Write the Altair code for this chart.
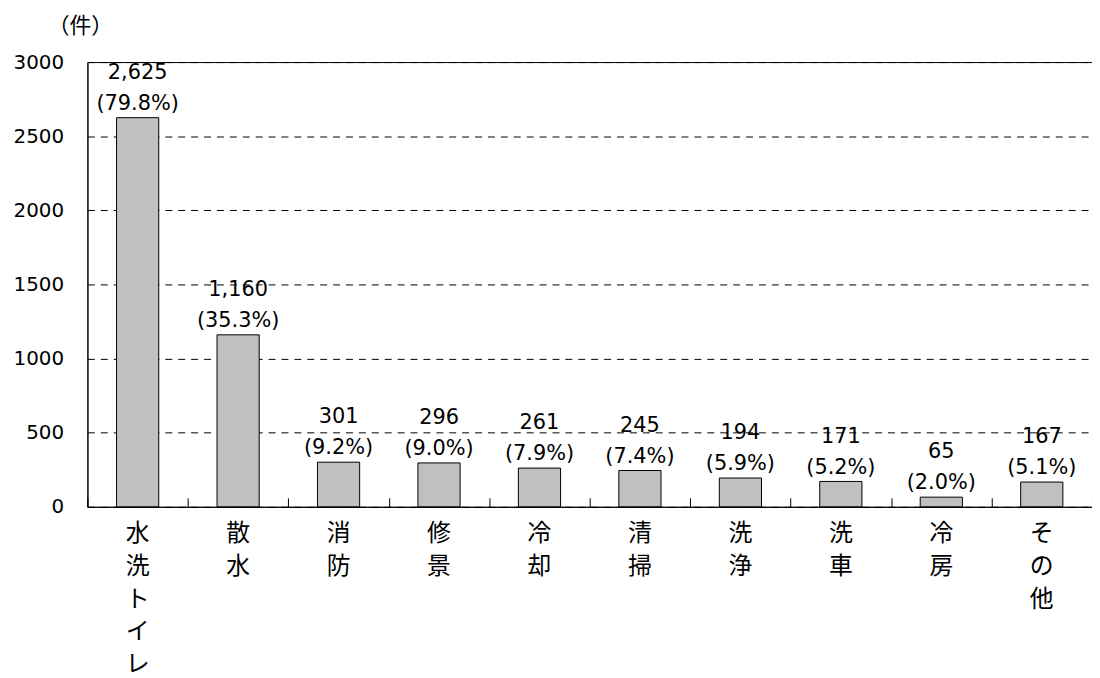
import altair as alt
import pandas as pd

categories = ["水洗トイレ", "散水", "消防", "修景", "冷却", "清掃", "洗浄", "洗車", "冷房", "その他"]
counts = [2625, 1160, 301, 296, 261, 245, 194, 171, 65, 167]
percents = [79.8, 35.3, 9.2, 9.0, 7.9, 7.4, 5.9, 5.2, 2.0, 5.1]
y_ticks = [0, 500, 1000, 1500, 2000, 2500, 3000]
unit_label = ["（件）"]

df = pd.DataFrame({"cat": categories, "count": counts, "pct": percents})
df["count_label"] = [f"{v:,}" for v in counts]
df["pct_label"] = [f"({v:.1f}%)" for v in percents]
unit_df = pd.DataFrame({"t": unit_label})

NUM_FONT = "DejaVu Sans"
CJK_FONT = "Noto Sans CJK JP"

x_scale = alt.Scale(domain=categories, paddingInner=0.58, paddingOuter=0.29)
x_step_scale = alt.Scale(domain=categories, paddingInner=0, paddingOuter=0)
y_scale = alt.Scale(domain=[0, 3000], nice=False)

y_axis = alt.Axis(
    values=y_ticks, format="d", title=None,
    grid=True, gridDash=[7, 6], gridColor="black", gridWidth=1, gridOpacity=1,
    ticks=False, labelPadding=24, labelFont=NUM_FONT, labelFontSize=20,
    labelColor="black", domainColor="black", domainWidth=1,
)
y_enc = alt.Y("count:Q", scale=y_scale, axis=y_axis)

base = alt.Chart(df)

bars = base.mark_bar(fill="#c0c0c0", stroke="black", strokeWidth=1).encode(
    x=alt.X(
        "cat:N", scale=x_scale, sort=categories,
        axis=alt.Axis(
            title=None, labelAngle=0, labelExpr="split(datum.label, '')",
            labelFont=CJK_FONT, labelFontSize=24, labelLineHeight=33,
            labelColor="black", labelPadding=15, labelBaseline="top",
            ticks=False, domain=True, domainColor="black", domainWidth=1,
            orient="bottom", grid=False,
        ),
    ),
    y=y_enc,
)

tick_layer = base.mark_bar(opacity=0).encode(
    x=alt.X(
        "cat:N", scale=x_step_scale, sort=categories,
        axis=alt.Axis(
            title=None, labels=False, domain=False, ticks=True, tickSize=9,
            tickColor="black", tickWidth=1, tickBand="extent", offset=-9,
            orient="bottom", grid=False,
        ),
    ),
)

pct_text = base.mark_text(
    font=NUM_FONT, fontSize=21, color="black", baseline="middle", dy=-14
).encode(
    x=alt.X("cat:N", scale=x_scale, sort=categories, axis=None),
    y=y_enc,
    text="pct_label:N",
)

count_text = base.mark_text(
    font=NUM_FONT, fontSize=21, color="black", baseline="middle", dy=-45
).encode(
    x=alt.X("cat:N", scale=x_scale, sort=categories, axis=None),
    y=y_enc,
    text="count_label:N",
)

unit_text = alt.Chart(unit_df).mark_text(
    font=CJK_FONT, fontSize=22, color="black", align="center", baseline="middle"
).encode(
    x=alt.value(-7),
    y=alt.value(-36),
    text="t:N",
)

chart = (
    alt.layer(bars, tick_layer, pct_text, count_text, unit_text)
    .resolve_scale(x="independent")
    .resolve_axis(x="independent")
    .properties(
        width=1012, height=448,
        autosize=alt.AutoSizeParams(type="none"),
        padding={"left": 80, "top": 52, "right": 0, "bottom": 170},
        background="white",
    )
    .configure_view(stroke="black", strokeWidth=1)
)

chart.save("out.html", embed_options={"renderer": "svg", "actions": False})
